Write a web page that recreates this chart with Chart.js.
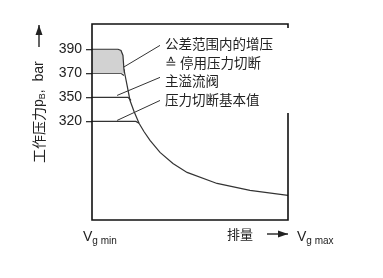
<!DOCTYPE html>
<html>
<head>
<meta charset="utf-8">
<script src="https://cdn.jsdelivr.net/npm/chart.js@4"></script>
<style>
  body { margin: 0; background: #fff; }
  #wrap { width: 383px; height: 278px; position: relative; }
</style>
</head>
<body>
<div id="wrap"><canvas id="pressureChart"></canvas></div>
<script>
// pressure levels (schematic, evenly spaced) and their tick labels
const pressureLevels = [1, 2, 3, 4];
const pressureLabels = ['320', '350', '370', '390'];

// displacement in % of Vg max, pressure in levels above
const toleranceBand = [[0, 4], [13.3, 4], [14.8, 3.95], [15.8, 3.74], [16.3, 3.16], [16.6, 3.0]];
const mainCurve = [[16.3, 3.16], [16.8, 2.95], [17.9, 2.5], [19.4, 1.87], [21.4, 1.42], [24.0, 0.92],
    [26.5, 0.58], [29.6, 0.21], [34.7, -0.29], [41.3, -0.75], [48.5, -1.12], [63.8, -1.58],
    [80.6, -1.87], [100, -2.08]];
const line370 = [[0, 3], [14.8, 3], [16.3, 2.91]];
const line350 = [[0, 2], [18.4, 2], [19.9, 1.87]];
const line320 = [[0, 1], [22.4, 1], [24.0, 0.92]];

// leader lines to the callouts
const leader1 = [[11.7, 3.04], [34.7, 4.16]];
const leader2 = [[12.8, 2.08], [34.7, 2.83]];
const leader3 = [[12.8, 1.04], [34.7, 1.87]];

const calloutTexts = ['公差范围内的增压', '≙ 停用压力切断', '主溢流阀', '压力切断基本值'];

const toPts = arr => arr.map(p => ({ x: p[0], y: p[1] }));
const lineSet = (pts, extra) => Object.assign({
    data: toPts(pts),
    showLine: true,
    pointRadius: 0,
    borderColor: '#333',
    borderWidth: 1.2,
    tension: 0,
    fill: false
}, extra || {});

const cjk = '"Noto Sans CJK SC", sans-serif';
const latin = '"Liberation Sans", Arial, sans-serif';

const arrow = (ctx, x1, y1, x2, y2) => {
    ctx.beginPath();
    ctx.moveTo(x1, y1);
    ctx.lineTo(x2, y2);
    ctx.stroke();
    const a = Math.atan2(y2 - y1, x2 - x1);
    ctx.beginPath();
    ctx.moveTo(x2, y2);
    ctx.lineTo(x2 - 10 * Math.cos(a) + 3.5 * Math.sin(a), y2 - 10 * Math.sin(a) - 3.5 * Math.cos(a));
    ctx.lineTo(x2 - 10 * Math.cos(a) - 3.5 * Math.sin(a), y2 - 10 * Math.sin(a) + 3.5 * Math.cos(a));
    ctx.closePath();
    ctx.fill();
};

const decorations = {
    id: 'decorations',
    afterDraw(chart) {
        const { ctx, chartArea: ca, scales } = chart;
        const xs = scales.x, ys = scales.y;
        ctx.save();
        ctx.strokeStyle = '#111';
        ctx.fillStyle = '#222';

        // frame, right side broken by callouts
        ctx.lineWidth = 1.6;
        ctx.beginPath();
        ctx.moveTo(ca.right, ca.top + 4);
        ctx.lineTo(ca.right, ca.top);
        ctx.lineTo(ca.left, ca.top);
        ctx.lineTo(ca.left, ca.bottom);
        ctx.lineTo(ca.right, ca.bottom);
        ctx.lineTo(ca.right, ca.top + 89);
        ctx.stroke();

        // callout texts
        ctx.font = '13.5px ' + cjk;
        ctx.textBaseline = 'middle';
        ctx.textAlign = 'left';
        const tx = xs.getPixelForValue(leader1[1][0]) + 5;
        ctx.fillText(calloutTexts[0], tx, ys.getPixelForValue(leader1[1][1]) - 2);
        ctx.fillText(calloutTexts[1], tx, ys.getPixelForValue(leader1[1][1]) + 17);
        ctx.fillText(calloutTexts[2], tx, ys.getPixelForValue(leader2[1][1]) + 3);
        ctx.fillText(calloutTexts[3], tx, ys.getPixelForValue(leader3[1][1]) - 1);

        // y axis title, rotated
        ctx.save();
        ctx.translate(39, 163);
        ctx.rotate(-Math.PI / 2);
        ctx.textBaseline = 'middle';
        ctx.font = '14px ' + cjk;
        ctx.fillText('工作压力', 0, 0);
        let w = ctx.measureText('工作压力').width;
        ctx.font = '14px ' + latin;
        ctx.fillText('p', w, 0);
        w += ctx.measureText('p').width;
        ctx.font = '9px ' + latin;
        ctx.fillText('B', w, 4);
        w += ctx.measureText('B').width;
        ctx.font = '14px ' + latin;
        ctx.fillText(',  bar', w, 0);
        ctx.restore();
        ctx.lineWidth = 1.3;
        arrow(ctx, 39, 47, 39, 25);

        // x axis labels
        const vg = (x, sub) => {
            ctx.font = '14px ' + latin;
            ctx.textBaseline = 'alphabetic';
            ctx.fillText('V', x, 241);
            const vw = ctx.measureText('V').width;
            ctx.font = '10px ' + latin;
            ctx.fillText(sub, x + vw, 244);
        };
        vg(xs.getPixelForValue(0) - 9, 'g min');
        vg(xs.getPixelForValue(100) + 9, 'g max');
        ctx.font = '13px ' + cjk;
        ctx.textBaseline = 'middle';
        ctx.fillText('排量', 227, 234);
        arrow(ctx, 267, 234, xs.getPixelForValue(100), 234);
        ctx.restore();
    }
};

new Chart(document.getElementById('pressureChart'), {
    type: 'scatter',
    data: {
        datasets: [
            lineSet(toleranceBand, { fill: { value: 3 }, backgroundColor: '#d2d2d2' }),
            lineSet(mainCurve),
            lineSet(line370),
            lineSet(line350),
            lineSet(line320),
            lineSet(leader1, { borderWidth: 1 }),
            lineSet(leader2, { borderWidth: 1 }),
            lineSet(leader3, { borderWidth: 1 })
        ]
    },
    options: {
        responsive: true,
        maintainAspectRatio: false,
        animation: false,
        layout: { padding: { top: 24, right: 95, bottom: 58, left: 0 } },
        plugins: { legend: { display: false }, tooltip: { enabled: false } },
        scales: {
            x: { type: 'linear', min: 0, max: 100, display: false },
            y: {
                type: 'linear',
                min: -3.1,
                max: 5.05,
                afterBuildTicks: s => { s.ticks = pressureLevels.map(v => ({ value: v })); },
                afterFit: s => { s.width = 92; },
                ticks: {
                    callback: v => pressureLabels[pressureLevels.indexOf(v)],
                    font: { size: 14, family: latin },
                    color: '#222',
                    padding: 4
                },
                grid: { drawOnChartArea: false, tickLength: 6, color: '#333', lineWidth: 1.3 },
                border: { display: false }
            }
        }
    },
    plugins: [decorations]
});
</script>
</body>
</html>
